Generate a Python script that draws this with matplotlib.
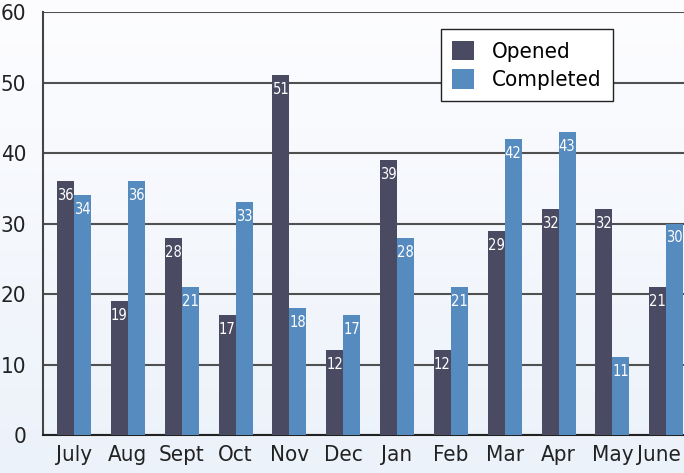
import numpy as np
import matplotlib.pyplot as plt
import matplotlib.transforms as mtransforms
from matplotlib import font_manager
from matplotlib.colors import LinearSegmentedColormap

months = ['July', 'Aug', 'Sept', 'Oct', 'Nov', 'Dec', 'Jan', 'Feb', 'Mar', 'Apr', 'May', 'June']
opened = [36, 19, 28, 17, 51, 12, 39, 12, 29, 32, 32, 21]
completed = [34, 36, 21, 33, 18, 17, 28, 21, 42, 43, 11, 30]

# condensed face if we have one
names = {f.name for f in font_manager.fontManager.ttflist}
if 'Liberation Sans Narrow' in names:
    plt.rcParams['font.family'] = ['Liberation Sans Narrow', 'DejaVu Sans']
else:
    plt.rcParams['font.family'] = ['DejaVu Sans']
    plt.rcParams['font.stretch'] = 'condensed'

c_open = '#4a4a62'
c_done = '#568bc0'

fig = plt.figure(figsize=(6.84, 4.73), dpi=100)

# gradient background
bg = fig.add_axes([0, 0, 1, 1], zorder=-10)
grad = np.linspace(0, 1, 256).reshape(-1, 1)
cm = LinearSegmentedColormap.from_list('bg', ['#fdfdff', '#ecf2fa'])
bg.imshow(grad, aspect='auto', cmap=cm, extent=[0, 1, 0, 1], origin='upper')
bg.axis('off')

ax = fig.add_axes([0.0629, 0.0803, 0.9371, 0.8943])
ax.set_facecolor('none')

x = np.arange(len(months))
w = 0.315
b1 = ax.bar(x - w / 2, opened, w, color=c_open, label='Opened', zorder=3)
b2 = ax.bar(x + w / 2, completed, w, color=c_done, label='Completed', zorder=3)

for bars, vals in ((b1, opened), (b2, completed)):
    for r, v in zip(bars, vals):
        ax.annotate(str(v), (r.get_x() + r.get_width() / 2, v), xytext=(0, -5),
                    textcoords='offset points', ha='center', va='top',
                    color='white', fontsize=10.5, zorder=4)

ax.set_ylim(0, 60)
ax.set_xlim(-0.576, 11.33)
ax.set_yticks(range(0, 61, 10))
ax.yaxis.grid(True, color='#505050', lw=1.5, zorder=1)
ax.set_axisbelow(True)
ax.set_xticks(x)
ax.set_xticklabels(months)
ax.tick_params(length=0, labelsize=16, colors='#222222', pad=7)
ax.tick_params(axis='y', pad=12)
# nudge the last month label so it stays inside the picture
last = ax.get_xticklabels()[-1]
last.set_transform(last.get_transform() + mtransforms.ScaledTranslation(-5 / 72, 0, fig.dpi_scale_trans))
for s in ('top', 'right'):
    ax.spines[s].set_visible(False)
ax.spines['left'].set_color('#444444')
ax.spines['bottom'].set_color('#222222')
ax.spines['left'].set_linewidth(1.5)
ax.spines['bottom'].set_linewidth(1.5)

leg = ax.legend(loc='upper right', bbox_to_anchor=(0.906, 0.985), fontsize=16,
                frameon=True, fancybox=False, edgecolor='#222222',
                handlelength=1.0, handleheight=1.0, borderpad=0.5, labelspacing=0.3,
                handletextpad=0.8)
leg.get_frame().set_facecolor('white')
leg.get_frame().set_alpha(1)
leg.set_zorder(5)

fig.savefig('out.png', dpi=100)
